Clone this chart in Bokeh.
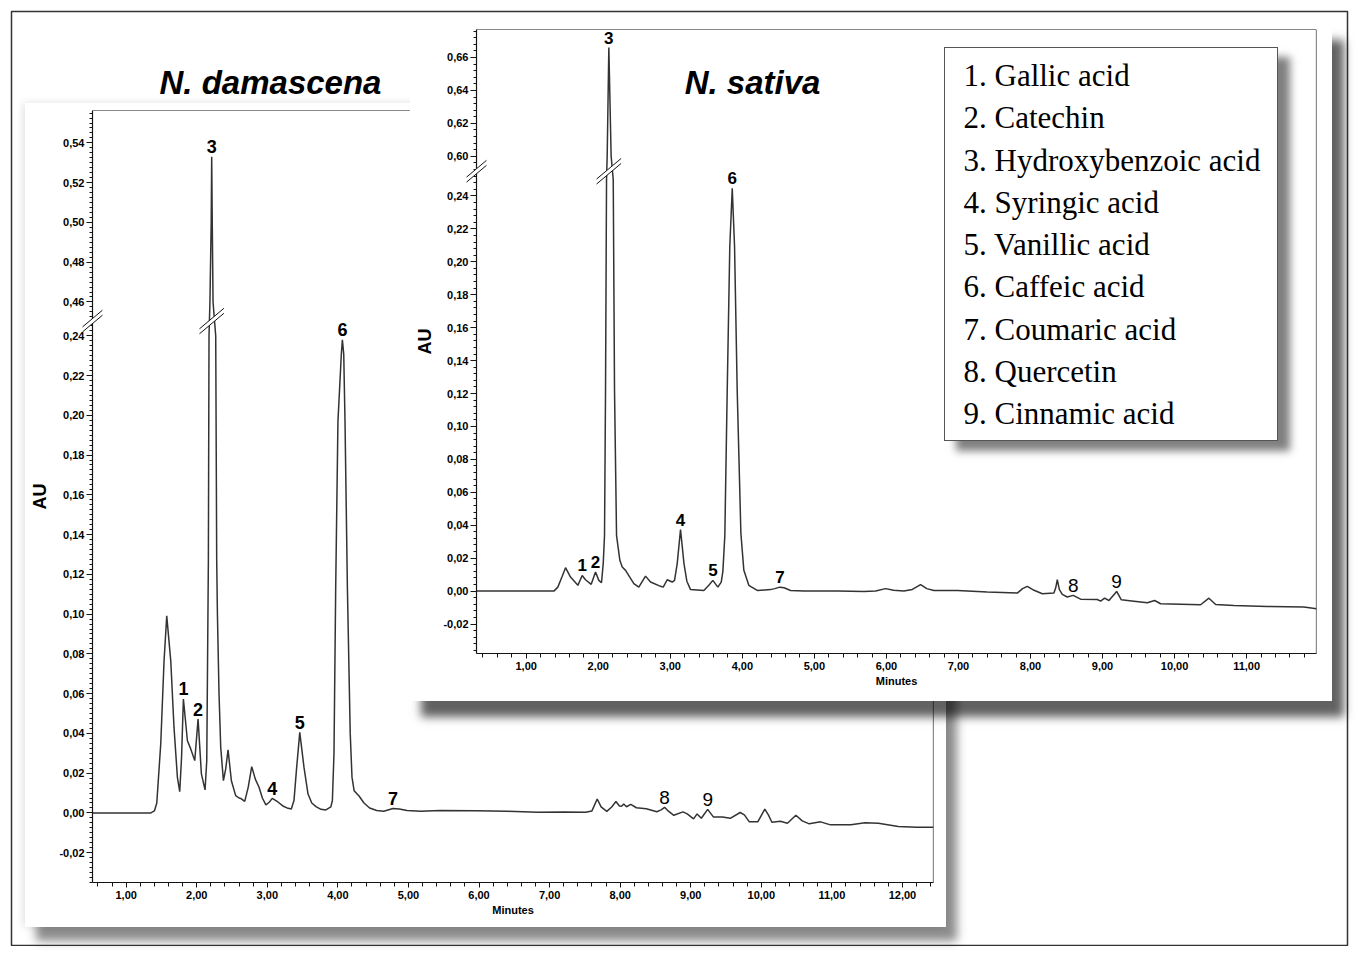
import numpy as np
from bokeh.plotting import figure
from bokeh.models import Range1d, FixedTicker, CustomJSTickFormatter, Span
from bokeh.core.properties import value
from bokeh.embed import file_html
from bokeh.resources import INLINE

# ---------------- data ----------------
# N. damascena chromatogram: (minutes, AU)
dam_trace = [
    (0.52, 0.0), (1.00, 0.0), (1.35, 0.0), (1.40, 0.001), (1.434, 0.005), (1.49, 0.0347),
    (1.537, 0.0765), (1.575, 0.0991), (1.632, 0.0765), (1.678, 0.043), (1.726, 0.0179),
    (1.759, 0.0107), (1.785, 0.028), (1.811, 0.0573), (1.868, 0.0363), (1.915, 0.0322),
    (1.972, 0.0263), (2.019, 0.0472), (2.066, 0.0196), (2.118, 0.0116), (2.142, 0.0263),
    (2.165, 0.127), (2.174, 0.24), (2.187, 0.46), (2.205, 0.50), (2.212, 0.533),
    (2.220, 0.50), (2.231, 0.46), (2.269, 0.24), (2.283, 0.127), (2.293, 0.10),
    (2.316, 0.0598), (2.340, 0.033), (2.378, 0.0162), (2.410, 0.022), (2.444, 0.0317),
    (2.491, 0.0162), (2.552, 0.0087), (2.600, 0.0075), (2.623, 0.0073), (2.680, 0.0058),
    (2.730, 0.013), (2.779, 0.0233), (2.830, 0.017), (2.883, 0.0129), (2.930, 0.0075),
    (2.980, 0.004), (3.030, 0.0055), (3.070, 0.0073), (3.150, 0.0055), (3.220, 0.0035),
    (3.280, 0.0025), (3.340, 0.002), (3.378, 0.0062), (3.416, 0.0229), (3.460, 0.0405),
    (3.520, 0.0229), (3.577, 0.0095), (3.630, 0.005), (3.690, 0.0032), (3.760, 0.0018),
    (3.830, 0.0015), (3.900, 0.003), (3.922, 0.0062), (3.945, 0.030), (3.969, 0.113),
    (4.001, 0.197), (4.049, 0.2307), (4.064, 0.238), (4.083, 0.2307), (4.101, 0.197),
    (4.135, 0.113), (4.175, 0.040),
    (4.200, 0.018), (4.230, 0.0112), (4.300, 0.0085), (4.370, 0.0050), (4.450, 0.0025),
    (4.550, 0.0012), (4.650, 0.0008), (4.780, 0.0022), (4.870, 0.002), (4.980, 0.0012),
    (5.170, 0.0008), (5.450, 0.0012), (5.950, 0.0011), (6.400, 0.0008), (6.830, 0.0003),
    (7.200, 0.0005), (7.510, 0.0003), (7.600, 0.001), (7.675, 0.007), (7.730, 0.003),
    (7.810, 0.0008), (7.880, 0.003), (7.940, 0.0057), (7.990, 0.0035), (8.020, 0.0033),
    (8.050, 0.0045), (8.090, 0.0031), (8.150, 0.0043), (8.230, 0.0026), (8.370, 0.0021),
    (8.520, 0.0006), (8.580, 0.0015), (8.630, 0.0028), (8.680, 0.001), (8.760, -0.0012),
    (8.890, 0.0005), (8.950, -0.0005), (9.040, -0.003), (9.090, -0.0005), (9.150, -0.0027),
    (9.240, 0.0018), (9.320, -0.002), (9.450, -0.002), (9.560, -0.0027), (9.700, 0.0002),
    (9.760, -0.001), (9.830, -0.0045), (9.950, -0.0045), (10.050, 0.0019), (10.100, -0.001),
    (10.150, -0.0047), (10.270, -0.0042), (10.370, -0.0052), (10.490, -0.0012),
    (10.580, -0.004), (10.680, -0.0055), (10.840, -0.0045), (10.980, -0.006),
    (11.270, -0.006), (11.470, -0.005), (11.660, -0.0052), (11.940, -0.0068),
    (12.200, -0.0072), (12.440, -0.0072),
]
dam_time = [t for t, _ in dam_trace]
dam_au = [a for _, a in dam_trace]

# N. sativa chromatogram: (minutes, AU)
sat_trace = [
    (0.31, 0.0), (1.00, 0.0), (1.384, 0.0), (1.439, 0.0024), (1.50, 0.009), (1.546, 0.0142),
    (1.615, 0.0085), (1.717, 0.0035), (1.777, 0.0095), (1.823, 0.0069), (1.902, 0.0041),
    (1.962, 0.0116), (2.008, 0.0065), (2.045, 0.0051), (2.069, 0.0167), (2.087, 0.0337),
    (2.101, 0.1215), (2.115, 0.25), (2.124, 0.60), (2.147, 0.666), (2.179, 0.60),
    (2.208, 0.25), (2.226, 0.1215), (2.254, 0.0337), (2.300, 0.0187), (2.333, 0.0146),
    (2.379, 0.0126), (2.494, 0.0045), (2.563, 0.0024), (2.656, 0.0091), (2.726, 0.0055),
    (2.865, 0.0029), (2.902, 0.0024), (2.957, 0.0069), (3.027, 0.0055), (3.059, 0.0065),
    (3.096, 0.0167), (3.142, 0.0374), (3.190, 0.0167), (3.230, 0.006), (3.281, 0.0009),
    (3.466, 0.0004), (3.535, 0.0035), (3.591, 0.0065), (3.660, 0.0024), (3.707, 0.0055),
    (3.730, 0.012), (3.757, 0.0337), (3.790, 0.1215), (3.826, 0.2094), (3.860, 0.2446),
    (3.892, 0.2094), (3.929, 0.1215), (3.980, 0.035), (4.021, 0.0126), (4.090, 0.0035),
    (4.207, 0.0004), (4.392, 0.0009), (4.450, 0.0015), (4.521, 0.0024), (4.580, 0.002),
    (4.669, 0.0004), (4.854, 0.0), (5.318, 0.0), (5.687, -0.0003), (5.850, 0.0),
    (5.988, 0.0015), (6.100, 0.0005), (6.242, 0.0), (6.360, 0.001), (6.474, 0.0039),
    (6.560, 0.0015), (6.659, 0.0004), (6.984, 0.0003), (7.400, -0.0005), (7.817, -0.0012),
    (7.890, 0.0015), (7.956, 0.0029), (8.050, 0.0005), (8.164, -0.0016), (8.325, -0.0012),
    (8.350, 0.002), (8.372, 0.0069), (8.400, 0.001), (8.441, -0.002), (8.510, -0.0036),
    (8.593, -0.0026), (8.695, -0.0049), (8.927, -0.0051), (8.973, -0.0061), (9.029, -0.0043),
    (9.089, -0.0057), (9.196, -0.0002), (9.261, -0.0053), (9.436, -0.0061), (9.622, -0.0071),
    (9.723, -0.0057), (9.806, -0.0077), (10.361, -0.0083), (10.477, -0.0043),
    (10.570, -0.0081), (10.824, -0.0087), (11.287, -0.0093), (11.795, -0.0097),
    (11.970, -0.0107),
]
sat_time = [t for t, _ in sat_trace]
sat_au = [a for _, a in sat_trace]

# peak labels: number, retention time (min), apex height (AU)
peak_numbers = ["1", "2", "3", "4", "5", "6", "7", "8", "9"]
dam_peak_time = [1.811, 2.019, 2.212, 3.07, 3.46, 4.064, 4.78, 8.63, 9.24]
dam_peak_au = [0.0573, 0.0472, 0.533, 0.0073, 0.0405, 0.238, 0.0022, 0.0028, 0.0018]
sat_peak_time = [1.777, 1.962, 2.147, 3.142, 3.591, 3.86, 4.521, 8.593, 9.196]
sat_peak_au = [0.0095, 0.0116, 0.666, 0.0374, 0.0065, 0.2446, 0.0024, -0.0026, -0.0002]

compounds = ["1. Gallic acid", "2. Catechin", "3. Hydroxybenzoic acid", "4. Syringic acid",
             "5. Vanillic acid", "6. Caffeic acid", "7. Coumaric acid", "8. Quercetin",
             "9. Cinnamic acid"]

dam_title = "N. damascena"
sat_title = "N. sativa"
x_label = "Minutes"
y_label = "AU"

# axis extents (minutes / AU) and broken-axis limits (value below break, value above break)
dam_x_span = (0.523, 12.44)
dam_y_span = (-0.035, 0.5563)
dam_break = (0.2474, 0.4504)
dam_x_major = [1, 2, 3, 4, 5, 6, 7, 8, 9, 10, 11, 12]
dam_y_major = [-0.02, 0.0, 0.02, 0.04, 0.06, 0.08, 0.10, 0.12, 0.14, 0.16, 0.18, 0.20,
               0.22, 0.24, 0.46, 0.48, 0.50, 0.52, 0.54]

sat_x_span = (0.31, 11.97)
sat_y_span = (-0.0379, 0.677)
sat_break = (0.2550, 0.5909)
sat_x_major = [1, 2, 3, 4, 5, 6, 7, 8, 9, 10, 11]
sat_y_major = [-0.02, 0.0, 0.02, 0.04, 0.06, 0.08, 0.10, 0.12, 0.14, 0.16, 0.18, 0.20,
               0.22, 0.24, 0.60, 0.62, 0.64, 0.66]

FONT = "Liberation Sans"
INK = "#141414"
TRACE = "#333333"


def squeeze(vals, brk):
    """Map real AU onto the broken axis: values above the break are shifted down."""
    lo, hi = brk
    v = np.asarray(vals, dtype=float)
    return np.where(v <= lo, v, np.where(v >= hi, v - (hi - lo), lo))


def chromatogram(time, au, brk, x_span, y_span, x_major, y_major, y_minor_step,
                 width, height, borders, peak_t, peak_a, label_sizes, label_std, css):
    left, right, top, bottom = borders
    y_top = float(squeeze([y_span[1]], brk)[0])
    p = figure(width=width, height=height, title=None,
               x_range=Range1d(*x_span), y_range=Range1d(y_span[0], y_top),
               toolbar_location=None, output_backend="svg",
               min_border_left=left, min_border_right=right,
               min_border_top=top, min_border_bottom=bottom,
               background_fill_color="white", border_fill_color="white",
               styles=css)
    p.grid.visible = False
    p.outline_line_color = None

    # axes
    x_minor = list(np.round(np.arange(np.ceil(x_span[0] / 0.2) * 0.2, x_span[1], 0.2), 3))
    p.xaxis.ticker = FixedTicker(ticks=x_major, minor_ticks=x_minor)
    p.xaxis.formatter = CustomJSTickFormatter(code="return tick.toFixed(2).replace('.', ',');")
    lo, hi = brk
    ym = np.round(np.arange(np.ceil(y_span[0] / y_minor_step) * y_minor_step,
                            y_span[1] + 1e-9, y_minor_step), 5)
    ym = [v for v in ym if v < lo - 1e-9 or v > hi + 1e-9]
    p.yaxis.ticker = FixedTicker(ticks=list(squeeze(y_major, brk)),
                                 minor_ticks=list(squeeze(ym, brk)))
    p.yaxis.formatter = CustomJSTickFormatter(
        args=dict(lo=lo, off=hi - lo),
        code="""
        const v = tick > lo + 1e-6 ? tick + off : tick;
        let s = v.toFixed(2).replace('.', ',');
        if (s == '-0,00') s = '0,00';
        return s;""")
    for ax in (p.xaxis[0], p.yaxis[0]):
        ax.axis_line_color = INK
        ax.axis_line_width = 1.2
        ax.major_tick_line_color = INK
        ax.minor_tick_line_color = INK
        ax.major_tick_in = 0
        ax.minor_tick_in = 0
        ax.major_label_text_font = FONT
        ax.major_label_text_font_size = "11px"
        ax.major_label_text_font_style = "bold"
        ax.major_label_text_color = "black"
        ax.axis_label_text_font = FONT
        ax.axis_label_text_font_style = "bold"
        ax.axis_label_text_color = "black"
    p.xaxis.major_tick_out = 5
    p.xaxis.minor_tick_out = 4
    p.xaxis.major_label_standoff = 3
    p.xaxis.axis_label = x_label
    p.xaxis.axis_label_text_font_size = "11px"
    p.xaxis.axis_label_standoff = 2
    p.yaxis.major_tick_out = 6
    p.yaxis.minor_tick_out = 3
    p.yaxis.major_label_standoff = 2
    p.yaxis.axis_label = y_label
    p.yaxis.axis_label_text_font_size = "18px"
    p.yaxis.axis_label_standoff = label_std

    # top and right frame edges
    p.add_layout(Span(location=x_span[1], dimension="height", line_color=INK, line_width=1.2))
    p.add_layout(Span(location=y_top, dimension="width", line_color=INK, line_width=1.2))

    # trace
    p.line(time, list(squeeze(au, brk)), line_color=TRACE, line_width=1.5)

    # peak numbers
    yl = list(squeeze(peak_a, brk))
    bold_idx = [i for i in range(9) if peak_numbers[i] not in ("8", "9")]
    norm_idx = [i for i in range(9) if peak_numbers[i] in ("8", "9")]
    p.text(x=[peak_t[i] for i in bold_idx], y=[yl[i] for i in bold_idx],
           text=[peak_numbers[i] for i in bold_idx], text_font=value(FONT),
           text_font_size=label_sizes[0], text_font_style="bold", text_color="black",
           text_align="center", text_baseline="middle", y_offset=-10)
    p.text(x=[peak_t[i] for i in norm_idx], y=[yl[i] for i in norm_idx],
           text=[peak_numbers[i] for i in norm_idx], text_font=value(FONT),
           text_font_size=label_sizes[1], text_font_style="normal", text_color="black",
           text_align="center", text_baseline="middle", y_offset=-10)

    # axis-break marks (on the y axis and on the clipped peak)
    fw = width - left - right
    fh = height - top - bottom
    sx = fw / (x_span[1] - x_span[0])
    sy = fh / (y_top - y_span[0])
    big = int(np.argmax(peak_a))

    def brk_mark(cx, L):
        c, s, g = np.cos(np.radians(40)), np.sin(np.radians(40)), 5.0
        pts = [(-L * c, L * s - g / 2), (L * c, -L * s - g / 2),
               (L * c, -L * s + g / 2), (-L * c, L * s + g / 2)]
        xs = [cx + ox / sx for ox, _ in pts]
        ys = [lo - oy / sy for _, oy in pts]
        p.patch(xs, ys, fill_color="white", line_color=None, level="overlay")
        p.segment(x0=[xs[0], xs[3]], y0=[ys[0], ys[3]], x1=[xs[1], xs[2]], y1=[ys[1], ys[2]],
                  line_color=INK, line_width=1, level="overlay")

    brk_mark(x_span[0], 13)
    brk_mark(peak_t[big], 16)
    return p, sx, sy, y_top


# ---------------- page composition (each panel placed on the page) ----------------
bg = figure(width=1341, height=938, title=None, x_range=Range1d(0, 1336), y_range=Range1d(934, 0),
            toolbar_location=None, output_backend="svg", x_axis_location=None, y_axis_location=None,
            min_border_left=3, min_border_top=3, min_border_right=2, min_border_bottom=1,
            styles={"position": "absolute", "left": "8px", "top": "8px"})
bg.grid.visible = False
bg.outline_line_color = "#333333"
bg.outline_line_width = 1.5
bg.text(x=[259], y=[71], text=[dam_title], text_font=value(FONT), text_font_size="33px",
        text_font_style="bold italic", text_color="black", text_align="center",
        text_baseline="middle")

p_dam, _, _, _ = chromatogram(
    dam_time, dam_au, dam_break, dam_x_span, dam_y_span, dam_x_major, dam_y_major, 0.0025,
    921, 824, (67, 13, 7, 45), dam_peak_time, dam_peak_au, ("18px", "19px"), 6,
    {"position": "absolute", "left": "25px", "top": "103px",
     "box-shadow": "11px 14px 9px rgba(0,0,0,0.45), -2px 0px 8px rgba(0,0,0,0.12)"})

p_sat, ssx, ssy, s_top = chromatogram(
    sat_time, sat_au, sat_break, sat_x_span, sat_y_span, sat_x_major, sat_y_major, 0.004,
    923, 677, (67, 16, 5, 48), sat_peak_time, sat_peak_au, ("17px", "19px"), 5,
    {"position": "absolute", "left": "409px", "top": "24px",
     "box-shadow": "12px 16px 9px rgba(0,0,0,0.62)"})
# panel title inside the N. sativa frame (276 px right of the axis, 53 px below the top)
p_sat.text(x=[sat_x_span[0] + 276 / ssx], y=[s_top - 53 / ssy], text=[sat_title],
           text_font=value(FONT), text_font_size="33px", text_font_style="bold italic",
           text_color="black", text_align="center", text_baseline="middle")

leg = figure(width=334, height=394, title=None, x_range=Range1d(0, 334),
             y_range=Range1d(8.676, -0.638), toolbar_location=None, output_backend="svg",
             x_axis_location=None, y_axis_location=None, min_border=0,
             styles={"position": "absolute", "left": "944px", "top": "47px",
                     "border": "1px solid #555555",
                     "box-shadow": "12px 10px 8px rgba(0,0,0,0.5)"})
leg.grid.visible = False
leg.outline_line_color = None
leg.text(x=[18] * len(compounds), y=list(range(len(compounds))), text=compounds,
         text_font=value("Liberation Serif"), text_font_size="31px", text_color="black",
         text_align="left", text_baseline="middle")

# independent roots so that Bokeh does not align their frames
p = [bg, p_dam, p_sat, leg]
open("out.html", "w").write(file_html(p, INLINE))
